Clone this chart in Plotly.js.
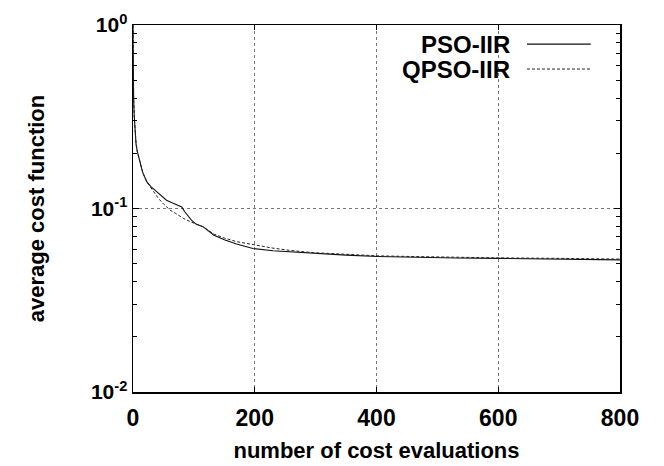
<!DOCTYPE html>
<html>
<head>
<meta charset="utf-8">
<script src="https://cdn.plot.ly/plotly-3.0.1.min.js"></script>
<style>html,body{margin:0;padding:0;background:#fff;}#chart{width:664px;height:466px;}</style>
</head>
<body>
<div id="chart"></div>
<script>
// Data
const psoX = [0, 0.5, 1, 2, 3.3, 5, 7, 11.5, 16, 22.5, 29, 36, 45, 55, 65, 74, 80, 85, 90, 96, 104, 115, 133, 150, 170, 197, 230, 260, 297, 350, 402, 450, 531, 600, 700, 777, 790, 800];
const psoY = [1.0, 0.45, 0.40, 0.32, 0.268, 0.225, 0.205, 0.176, 0.157, 0.140, 0.132, 0.126, 0.118, 0.111, 0.107, 0.1045, 0.102, 0.096, 0.091, 0.0865, 0.082, 0.0796, 0.0715, 0.0675, 0.064, 0.0605, 0.0588, 0.058, 0.0567, 0.0557, 0.0548, 0.0543, 0.0537, 0.0535, 0.0532, 0.053, 0.0526, 0.0525];
const qpsoX = [0, 0.5, 1, 2, 3.3, 5, 7, 11.5, 16, 22.5, 29, 36, 41.6, 50, 61, 70, 82.5, 95, 104, 115, 133, 150, 170, 197, 230, 260, 297, 350, 402, 450, 531, 600, 700, 777, 800];
const qpsoY = [1.0, 0.45, 0.40, 0.32, 0.268, 0.225, 0.205, 0.176, 0.157, 0.140, 0.131, 0.122, 0.1136, 0.106, 0.098, 0.094, 0.0885, 0.0845, 0.082, 0.0796, 0.0725, 0.069, 0.066, 0.0634, 0.0608, 0.059, 0.0574, 0.0563, 0.0552, 0.0548, 0.0541, 0.0538, 0.0535, 0.0532, 0.053];
const seriesNames = ['PSO-IIR', 'QPSO-IIR'];
const xTicks = [0, 200, 400, 600, 800];
const yTicks = [0.01, 0.1, 1];
const yTickText = ['10<sup>-2</sup>', '10<sup>-1</sup>', '10<sup>0</sup>'];
const yMinor = [0.02,0.03,0.04,0.05,0.06,0.07,0.08,0.09,0.2,0.3,0.4,0.5,0.6,0.7,0.8,0.9];

const FONT = '"Liberation Sans", Arial, Helvetica, sans-serif';

const traces = [
  {x: psoX, y: psoY, type: 'scatter', mode: 'lines', name: seriesNames[0],
   line: {color: '#111', width: 1.1}},
  {x: qpsoX, y: qpsoY, type: 'scatter', mode: 'lines', name: seriesNames[1],
   line: {color: '#222', width: 1, dash: '3px,2px'}}
];

const layout = {
  width: 664, height: 466,
  margin: {l: 133, r: 44, t: 25, b: 74},
  paper_bgcolor: '#fff', plot_bgcolor: '#fff',
  showlegend: false,
  font: {family: FONT, color: '#000', size: 22, weight: 'bold'},
  xaxis: {
    range: [0, 800], tickvals: xTicks, ticks: 'inside', ticklen: 5, tickcolor: '#000',
    showline: true, linecolor: '#000', linewidth: 1.5, mirror: 'ticks',
    showgrid: true, gridcolor: '#777', griddash: 'dot', gridwidth: 1,
    zeroline: false, ticklabelstandoff: 5,
    tickfont: {family: FONT, size: 23, weight: 'bold'},
    title: {text: 'number of cost evaluations', font: {family: FONT, size: 22, weight: 'bold'}, standoff: 12}
  },
  yaxis: {
    type: 'log', range: [-2, 0], tickvals: yTicks, ticktext: yTickText,
    ticks: 'inside', ticklen: 6, tickcolor: '#000',
    showline: true, linecolor: '#000', linewidth: 1.5, mirror: 'ticks',
    showgrid: true, gridcolor: '#777', griddash: 'dot', gridwidth: 1,
    zeroline: false,
    minor: {tickvals: yMinor, ticks: 'inside', ticklen: 4, tickcolor: '#000', showgrid: false},
    tickfont: {family: FONT, size: 21, weight: 'bold'},
    title: {text: 'average cost function', font: {family: FONT, size: 22, weight: 'bold'}, standoff: 40}
  },
  annotations: [
    {xref: 'paper', yref: 'paper', x: 0.778, y: 0.948, xanchor: 'right', yanchor: 'middle',
     text: seriesNames[0], showarrow: false, font: {family: FONT, size: 24, weight: 'bold'}},
    {xref: 'paper', yref: 'paper', x: 0.778, y: 0.880, xanchor: 'right', yanchor: 'middle',
     text: seriesNames[1], showarrow: false, font: {family: FONT, size: 24, weight: 'bold'}}
  ],
  shapes: [
    {type: 'line', xref: 'paper', yref: 'paper', x0: 0.809, x1: 0.94, y0: 0.948, y1: 0.948,
     line: {color: '#111', width: 1.1}},
    {type: 'line', xref: 'paper', yref: 'paper', x0: 0.809, x1: 0.94, y0: 0.880, y1: 0.880,
     line: {color: '#222', width: 1, dash: '3px,2px'}}
  ]
};

Plotly.newPlot('chart', traces, layout, {displayModeBar: false, staticPlot: true});
</script>
</body>
</html>
